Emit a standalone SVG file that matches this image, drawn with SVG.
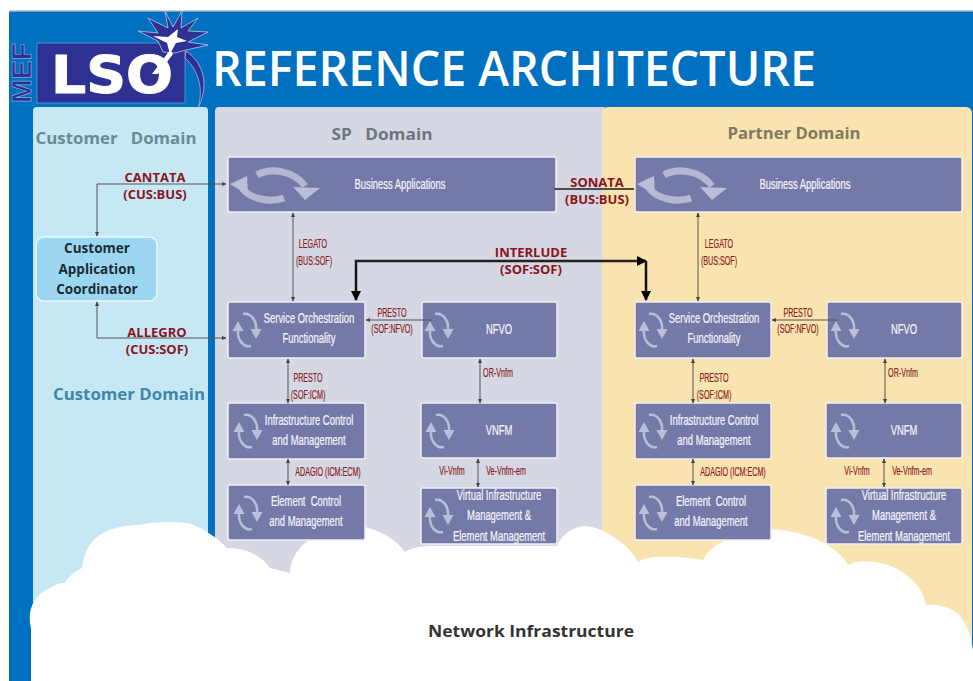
<svg xmlns="http://www.w3.org/2000/svg" width="973" height="681" viewBox="0 0 973 681">
<style>
.n{fill:#7579a8;stroke:#eef0f6;stroke-width:1.5}
.w{fill:#f2f3f8;stroke:#f2f3f8;stroke-width:.25;font-family:"Liberation Sans",Arial,sans-serif;font-size:14.5px;text-anchor:middle}
.r{fill:#8a1c24;stroke:#8a1c24;stroke-width:.2;font-family:"Liberation Sans",Arial,sans-serif;font-size:13px;text-anchor:middle}
.R{fill:#8a1420;font-family:"Open Sans","Liberation Sans",sans-serif;font-size:13px;font-weight:bold;text-anchor:middle}
.d{font-family:"Open Sans","Liberation Sans",sans-serif;font-size:16.5px;font-weight:bold;text-anchor:middle}
.c{fill:none;stroke:#555;stroke-width:1}
.i{fill:none;stroke:#b9bfd8;stroke-width:2.500}
.a{fill:#b9bfd8}
</style>
<defs>
<marker id="m" markerWidth="5" markerHeight="5" refX="4" refY="2.500" orient="auto-start-reverse" markerUnits="userSpaceOnUse"><path d="M0 .5L4.500 2.500L0 4.500z" fill="#444"/></marker>
<marker id="b" markerWidth="12" markerHeight="12" refX="9" refY="6" orient="auto" markerUnits="userSpaceOnUse"><path d="M0 1L10 6L0 11z" fill="#000"/></marker>
<g id="cyc">
<path class="i" d="M4 16C-4 18 -10 9 -9 0"/>
<path class="a" d="M-9 -9L-14.500 1L-3.500 1z"/>
<path class="i" d="M-4 -16C4 -18 10 -9 9 0"/>
<path class="a" d="M9 9L3.500 -1L14.500 -1z"/>
</g>
<g id="big">
<path fill="none" stroke="#b3b8d2" stroke-width="7" d="M-17 -10C-3 -18 20 -14 31 1"/>
<path class="a" d="M19 2L46 3L31 15z"/>
<path fill="none" stroke="#b3b8d2" stroke-width="7" d="M-32 3C-24 14 -4 18 10 13"/>
<path class="a" d="M-44 -1L-27 -9L-26 10z"/>
</g>
</defs>
<rect x="9" y="11" width="964" height="670" fill="#0070c0"/>
<rect x="9" y="10.500" width="964" height="1.500" fill="#7f9fc0"/>
<g id="logo">
<rect x="37" y="43" width="148" height="60" fill="#2e3192" stroke="#4f8fd0"/>
<text x="112" y="93" font-family="'DejaVu Sans',sans-serif" font-size="52" font-weight="bold" fill="#fff" stroke="#fff" stroke-width="1" stroke-linejoin="round" text-anchor="middle" textLength="122" lengthAdjust="spacingAndGlyphs">LSO</text>
<text transform="translate(31,103) rotate(-90)" font-family="'Liberation Sans',sans-serif" font-size="27" font-weight="bold" fill="#2e3192" stroke="#7fa8d8" stroke-width=".7" textLength="60" lengthAdjust="spacingAndGlyphs">MEF</text>
<path d="M165 11L168 28 148 18 158 33 138 31 158 41 163 52 175 53 186 50 208 45 188 42 208 32 188 31 198 18 181 28 182 11 173 27z" fill="#2e3192" stroke="#b9c8e4" stroke-width=".8"/>
<path d="M178 29L177 37 187 41 176 43 170 54 167 43 153 36 168 37z" fill="#fff"/>
<path d="M170 50L152 74L158 74L173 54z" fill="#fff"/>
<path d="M186 51C203 62 210 85 198 108C204 88 198 70 185 58z" fill="#2e3192" stroke="#b9c8e4" stroke-width=".7"/>
</g>
<text x="514" y="86" font-family="'Open Sans','Liberation Sans',sans-serif" font-size="49" font-weight="600" fill="#fff" text-anchor="middle" textLength="604" lengthAdjust="spacingAndGlyphs">REFERENCE ARCHITECTURE</text>

<g id="customer-domain"><rect x="33" y="107" width="175" height="590" rx="4" fill="#c6e8f5"/>
<text class="d" x="116" y="144" fill="#6a8a94" textLength="161" lengthAdjust="spacingAndGlyphs" xml:space="preserve">Customer   Domain</text>
<text class="d" x="129" y="400" fill="#3f87a8" textLength="152" lengthAdjust="spacingAndGlyphs">Customer Domain</text></g>
<g id="sp-domain"><rect x="215" y="107" width="392" height="590" rx="4" fill="#d5d8e2"/>
<text class="d" x="382" y="140" fill="#6f7480" textLength="101" lengthAdjust="spacingAndGlyphs" xml:space="preserve">SP   Domain</text></g>
<g id="partner-domain"><rect x="602" y="107" width="370" height="590" rx="6" fill="#f9e3ae"/>
<text class="d" x="794" y="139" fill="#7f7a60" textLength="133" lengthAdjust="spacingAndGlyphs">Partner Domain</text></g>

<g id="network-infrastructure">
<path fill="#fff" d="M31 681V628C27 612 32 596 50 588C56 584 60 583 65 583C68 577 74 572 82 568C84 550 92 538 105 532C118 526 130 525 140 525C150 522 170 521 187 523C200 526 218 538 227 548C240 547 260 553 270 568L290 573C290 552 310 530 350 525C375 526 395 538 405 552C412 548 420 546 433 546L557 546C562 533 575 526 586 526C603 527 630 545 638 562C648 556 655 557 663 557C675 556 690 558 703 560C708 550 715 546 722 542C735 533 760 528 780 530C805 532 838 545 848 565C858 560 865 561 875 562C895 564 922 580 926 605C935 604 942 606 948 608C960 612 970 625 973 650V681z"/>
<text x="531" y="637" font-family="'Open Sans','Liberation Sans',sans-serif" font-size="16.500" font-weight="bold" fill="#333" text-anchor="middle" textLength="206" lengthAdjust="spacingAndGlyphs">Network Infrastructure</text>
</g>

<g id="coordinator"><rect x="36" y="237" width="121" height="64" rx="8" fill="#9bd7f0" stroke="#eaf7fc" stroke-width="1.500"/>
<g font-family="'Open Sans','Liberation Sans',sans-serif" font-size="13.500" font-weight="bold" fill="#1c2b33" text-anchor="middle"><text x="97" y="253">Customer</text><text x="97" y="274">Application</text><text x="97" y="294">Coordinator</text></g></g>

<g id="sp-business"><rect class="n" x="228" y="157" width="328" height="55" rx="2"/><use href="#big" x="274" y="185"/><text class="w" transform="translate(400,189) scale(.65,1)">Business Applications</text></g>
<g id="sp-sof"><rect class="n" x="228" y="302" width="137" height="56" rx="2"/><use href="#cyc" x="247" y="330"/><text class="w" transform="translate(309,323) scale(.65,1)">Service Orchestration</text><text class="w" transform="translate(309,343) scale(.65,1)">Functionality</text></g>
<g id="sp-nfvo"><rect class="n" x="422" y="302" width="135" height="56" rx="2"/><use href="#cyc" x="439" y="330"/><text class="w" transform="translate(499,334) scale(.65,1)">NFVO</text></g>
<g id="sp-icm"><rect class="n" x="228" y="403" width="137" height="56" rx="2"/><use href="#cyc" x="248" y="431"/><text class="w" transform="translate(309,425) scale(.65,1)">Infrastructure Control</text><text class="w" transform="translate(309,445) scale(.65,1)">and Management</text></g>
<g id="sp-vnfm"><rect class="n" x="421" y="403" width="136" height="55" rx="2"/><use href="#cyc" x="440" y="431"/><text class="w" transform="translate(499,435) scale(.65,1)">VNFM</text></g>
<g id="sp-ecm"><rect class="n" x="228" y="485" width="137" height="55" rx="2"/><use href="#cyc" x="248" y="513"/><text class="w" transform="translate(306,506) scale(.65,1)" xml:space="preserve">Element  Control</text><text class="w" transform="translate(306,526) scale(.65,1)">and Management</text></g>
<g id="sp-vim"><rect class="n" x="421" y="488" width="136" height="56" rx="2"/><use href="#cyc" x="439" y="516"/><text class="w" transform="translate(499,500) scale(.65,1)">Virtual Infrastructure</text><text class="w" transform="translate(499,520) scale(.65,1)">Management &amp;</text><text class="w" transform="translate(499,541) scale(.65,1)">Element Management</text></g>

<g id="pd-business"><rect class="n" x="635" y="157" width="327" height="55" rx="2"/><use href="#big" x="681" y="185"/><text class="w" transform="translate(805,189) scale(.65,1)">Business Applications</text></g>
<g id="pd-sof"><rect class="n" x="635" y="302" width="136" height="56" rx="2"/><use href="#cyc" x="653" y="330"/><text class="w" transform="translate(714,323) scale(.65,1)">Service Orchestration</text><text class="w" transform="translate(714,343) scale(.65,1)">Functionality</text></g>
<g id="pd-nfvo"><rect class="n" x="827" y="302" width="135" height="56" rx="2"/><use href="#cyc" x="845" y="330"/><text class="w" transform="translate(904,334) scale(.65,1)">NFVO</text></g>
<g id="pd-icm"><rect class="n" x="635" y="403" width="136" height="56" rx="2"/><use href="#cyc" x="653" y="431"/><text class="w" transform="translate(714,425) scale(.65,1)">Infrastructure Control</text><text class="w" transform="translate(714,445) scale(.65,1)">and Management</text></g>
<g id="pd-vnfm"><rect class="n" x="826" y="403" width="136" height="55" rx="2"/><use href="#cyc" x="845" y="431"/><text class="w" transform="translate(904,435) scale(.65,1)">VNFM</text></g>
<g id="pd-ecm"><rect class="n" x="635" y="485" width="136" height="55" rx="2"/><use href="#cyc" x="653" y="513"/><text class="w" transform="translate(711,506) scale(.65,1)" xml:space="preserve">Element  Control</text><text class="w" transform="translate(711,526) scale(.65,1)">and Management</text></g>
<g id="pd-vim"><rect class="n" x="826" y="488" width="136" height="56" rx="2"/><use href="#cyc" x="845" y="516"/><text class="w" transform="translate(904,500) scale(.65,1)">Virtual Infrastructure</text><text class="w" transform="translate(904,520) scale(.65,1)">Management &amp;</text><text class="w" transform="translate(904,541) scale(.65,1)">Element Management</text></g>

<g id="connectors">
<path class="c" d="M97 236V184H226" marker-start="url(#m)" marker-end="url(#m)"/>
<path class="c" d="M97 302V338H226" marker-start="url(#m)" marker-end="url(#m)"/>
<path class="c" d="M293 213V301" marker-start="url(#m)" marker-end="url(#m)"/>
<path class="c" d="M698 213V301" marker-start="url(#m)" marker-end="url(#m)"/>
<path d="M554 189H634" stroke="#4d4d4d" stroke-width="2" fill="none"/>
<path d="M356 300V261H646" stroke="#222" stroke-width="2.500" fill="none" marker-end="url(#b)"/>
<path d="M646 261V300" stroke="#111" stroke-width="2.500" fill="none" marker-end="url(#b)"/>
<path d="M356 265V300" stroke="#111" stroke-width="2" fill="none" marker-end="url(#b)"/>
<path class="c" d="M366 320H432" marker-start="url(#m)"/>
<path class="c" d="M772 320H838" marker-start="url(#m)"/>
<path class="c" d="M288 359V403" marker-start="url(#m)" marker-end="url(#m)"/>
<path class="c" d="M693 359V403" marker-start="url(#m)" marker-end="url(#m)"/>
<path class="c" d="M288 459V485" marker-start="url(#m)" marker-end="url(#m)"/>
<path class="c" d="M693 459V485" marker-start="url(#m)" marker-end="url(#m)"/>
<path class="c" d="M480 359V403" marker-start="url(#m)" marker-end="url(#m)"/>
<path class="c" d="M885 359V403" marker-start="url(#m)" marker-end="url(#m)"/>
<path class="c" d="M478 459V487" marker-start="url(#m)" marker-end="url(#m)"/>
<path class="c" d="M884 459V487" marker-start="url(#m)" marker-end="url(#m)"/>
</g>

<g id="labels">
<text class="R" x="155" y="182">CANTATA</text><text class="R" x="155" y="199">(CUS:BUS)</text>
<text class="R" x="157" y="337">ALLEGRO</text><text class="R" x="157" y="354">(CUS:SOF)</text>
<text class="R" x="597" y="187">SONATA</text><text class="R" x="597" y="204">(BUS:BUS)</text>
<text class="R" x="531" y="257">INTERLUDE</text><text class="R" x="531" y="274">(SOF:SOF)</text>
<text class="r" transform="translate(313,248) scale(.55,1)">LEGATO</text><text class="r" transform="translate(314,265) scale(.55,1)">(BUS:SOF)</text>
<text class="r" transform="translate(719,248) scale(.55,1)">LEGATO</text><text class="r" transform="translate(719,265) scale(.55,1)">(BUS:SOF)</text>
<text class="r" transform="translate(392,317) scale(.55,1)">PRESTO</text><text class="r" transform="translate(392,333) scale(.55,1)">(SOF:NFVO)</text>
<text class="r" transform="translate(798,317) scale(.55,1)">PRESTO</text><text class="r" transform="translate(798,333) scale(.55,1)">(SOF:NFVO)</text>
<text class="r" transform="translate(308,382) scale(.55,1)">PRESTO</text><text class="r" transform="translate(308,399) scale(.55,1)">(SOF:ICM)</text>
<text class="r" transform="translate(714,382) scale(.55,1)">PRESTO</text><text class="r" transform="translate(714,399) scale(.55,1)">(SOF:ICM)</text>
<text class="r" transform="translate(328,476) scale(.55,1)">ADAGIO (ICM:ECM)</text>
<text class="r" transform="translate(733,476) scale(.55,1)">ADAGIO (ICM:ECM)</text>
<text class="r" transform="translate(498,377) scale(.55,1)">OR-Vnfm</text>
<text class="r" transform="translate(903,377) scale(.55,1)">OR-Vnfm</text>
<text class="r" transform="translate(452,475) scale(.55,1)">Vi-Vnfm</text>
<text class="r" transform="translate(506,475) scale(.55,1)">Ve-Vnfm-em</text>
<text class="r" transform="translate(857,475) scale(.55,1)">Vi-Vnfm</text>
<text class="r" transform="translate(912,475) scale(.55,1)">Ve-Vnfm-em</text>
</g>
</svg>
